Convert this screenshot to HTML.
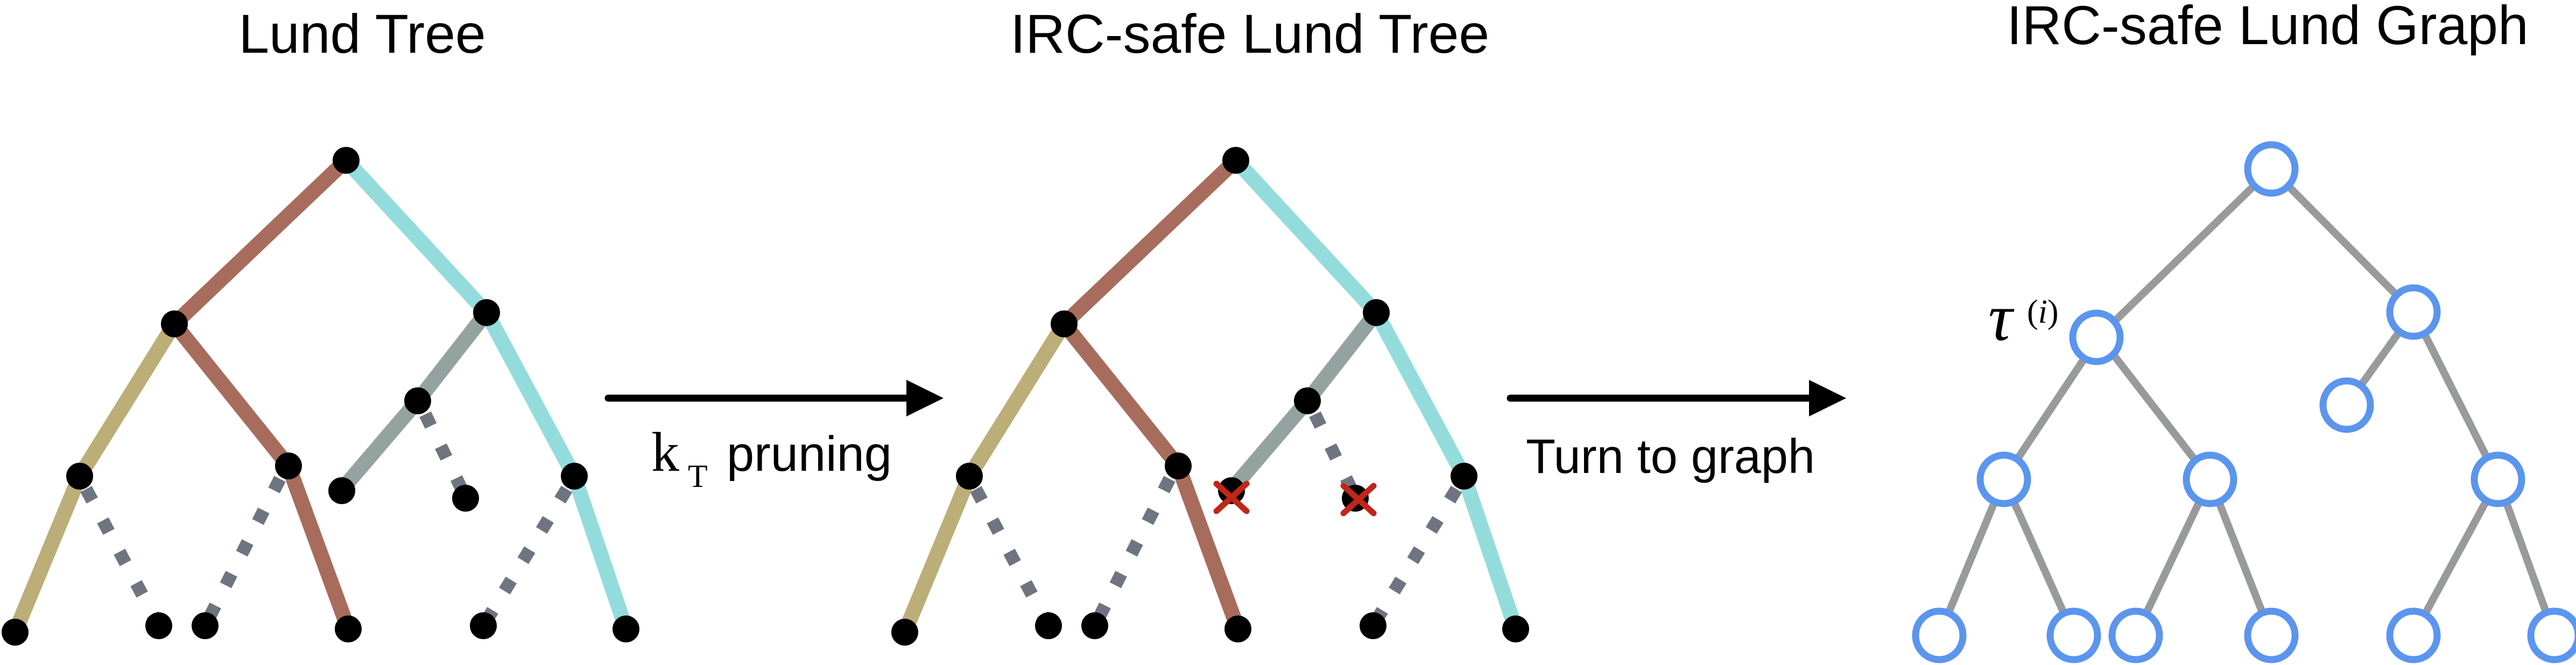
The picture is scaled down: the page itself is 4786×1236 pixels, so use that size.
<!DOCTYPE html>
<html><head><meta charset="utf-8"><style>
html,body{margin:0;padding:0;background:#fff;}
svg{display:block;}
</style></head><body>
<svg width="4786" height="1236" viewBox="0 0 4786 1236" xmlns="http://www.w3.org/2000/svg">
<defs>
<g id="tree">
  <g stroke-width="28" fill="none">
    <line x1="643" y1="298" x2="324" y2="602" stroke="#a86c5c"/>
    <line x1="643" y1="298" x2="904" y2="581" stroke="#94dcdc"/>
    <line x1="324" y1="602" x2="148" y2="885" stroke="#bcae78"/>
    <line x1="324" y1="602" x2="536" y2="866" stroke="#a86c5c"/>
    <line x1="148" y1="885" x2="28" y2="1175" stroke="#bcae78"/>
    <line x1="536" y1="866" x2="647" y2="1169" stroke="#a86c5c"/>
    <line x1="904" y1="581" x2="776" y2="745" stroke="#94a3a0"/>
    <line x1="776" y1="745" x2="635" y2="910" stroke="#94a3a0"/>
    <line x1="904" y1="581" x2="1067" y2="885" stroke="#94dcdc"/>
    <line x1="1067" y1="885" x2="1163" y2="1169" stroke="#94dcdc"/>
  </g>
  <g stroke="#6f7580" stroke-width="24" stroke-dasharray="24 42" fill="none">
    <line x1="160" y1="909" x2="295" y2="1163"/>
    <line x1="520" y1="890" x2="381" y2="1163"/>
    <line x1="790" y1="770" x2="865" y2="924"/>
    <line x1="1053" y1="909" x2="898" y2="1163"/>
  </g>
  <g fill="#000">
    <circle cx="643" cy="298" r="25"/>
    <circle cx="324" cy="602" r="25"/>
    <circle cx="904" cy="581" r="25"/>
    <circle cx="148" cy="885" r="25"/>
    <circle cx="536" cy="866" r="25"/>
    <circle cx="776" cy="745" r="25"/>
    <circle cx="1067" cy="885" r="25"/>
    <circle cx="635" cy="912" r="25"/>
    <circle cx="865" cy="926" r="25"/>
    <circle cx="28" cy="1175" r="25"/>
    <circle cx="295" cy="1163" r="25"/>
    <circle cx="381" cy="1163" r="25"/>
    <circle cx="647" cy="1169" r="25"/>
    <circle cx="898" cy="1163" r="25"/>
    <circle cx="1163" cy="1169" r="25"/>
  </g>
</g>
</defs>

<g font-family="Liberation Sans, sans-serif" font-size="102" fill="#000" text-anchor="middle">
  <text x="673" y="98">Lund Tree</text>
  <text x="2322" y="98">IRC-safe Lund Tree</text>
  <text x="4213" y="82">IRC-safe Lund Graph</text>
</g>

<use href="#tree"/>
<use href="#tree" transform="translate(1653,0)"/>

<g stroke="#c0261a" stroke-width="11" stroke-linecap="round">
  <line x1="2260" y1="899" x2="2316" y2="950"/>
  <line x1="2316" y1="899" x2="2260" y2="950"/>
  <line x1="2496" y1="903" x2="2552" y2="954"/>
  <line x1="2552" y1="903" x2="2496" y2="954"/>
</g>

<g stroke="#000" stroke-width="13" stroke-linecap="round">
  <line x1="1130" y1="740" x2="1690" y2="740"/>
  <line x1="2806" y1="740" x2="3365" y2="740"/>
</g>
<polygon points="1684,706 1753,740 1684,774" fill="#000"/>
<polygon points="3361,706 3430,740 3361,774" fill="#000"/>

<text x="1210" y="875" font-family="Liberation Serif, serif" font-size="104">k</text>
<text x="1278" y="905" font-family="Liberation Serif, serif" font-size="60">T</text>
<text x="1350" y="875" font-family="Liberation Sans, sans-serif" font-size="92">pruning</text>
<text x="2835" y="879" font-family="Liberation Sans, sans-serif" font-size="90">Turn to graph</text>

<g stroke="#999a9c" stroke-width="14">
  <line x1="4220" y1="314" x2="3900" y2="625"/>
  <line x1="4220" y1="314" x2="4484" y2="580"/>
  <line x1="4484" y1="580" x2="4360" y2="753"/>
  <line x1="4484" y1="580" x2="4641" y2="891"/>
  <line x1="3900" y1="625" x2="3723" y2="891"/>
  <line x1="3900" y1="625" x2="4106" y2="891"/>
  <line x1="3723" y1="891" x2="3603" y2="1181"/>
  <line x1="3723" y1="891" x2="3853" y2="1181"/>
  <line x1="4106" y1="891" x2="3968" y2="1181"/>
  <line x1="4106" y1="891" x2="4220" y2="1181"/>
  <line x1="4641" y1="891" x2="4484" y2="1181"/>
  <line x1="4641" y1="891" x2="4746" y2="1181"/>
</g>
<g fill="#fff" stroke="#5b95ee" stroke-width="13">
  <ellipse cx="4220" cy="314" rx="44" ry="45"/>
  <ellipse cx="4484" cy="580" rx="44" ry="45"/>
  <ellipse cx="3895" cy="627" rx="44" ry="45"/>
  <ellipse cx="4360" cy="753" rx="44" ry="45"/>
  <ellipse cx="3723" cy="891" rx="44" ry="45"/>
  <ellipse cx="4106" cy="891" rx="44" ry="45"/>
  <ellipse cx="4641" cy="891" rx="44" ry="45"/>
  <ellipse cx="3603" cy="1181" rx="44" ry="45"/>
  <ellipse cx="3853" cy="1181" rx="44" ry="45"/>
  <ellipse cx="3968" cy="1181" rx="44" ry="45"/>
  <ellipse cx="4220" cy="1181" rx="44" ry="45"/>
  <ellipse cx="4484" cy="1181" rx="44" ry="45"/>
  <ellipse cx="4746" cy="1181" rx="44" ry="45"/>
</g>
<text x="3694" y="632" font-family="Liberation Serif, serif" font-style="italic" font-size="125">τ</text>
<text x="3766" y="600" font-family="Liberation Serif, serif" font-size="62">(<tspan font-style="italic">i</tspan>)</text>
</svg>
</body></html>
